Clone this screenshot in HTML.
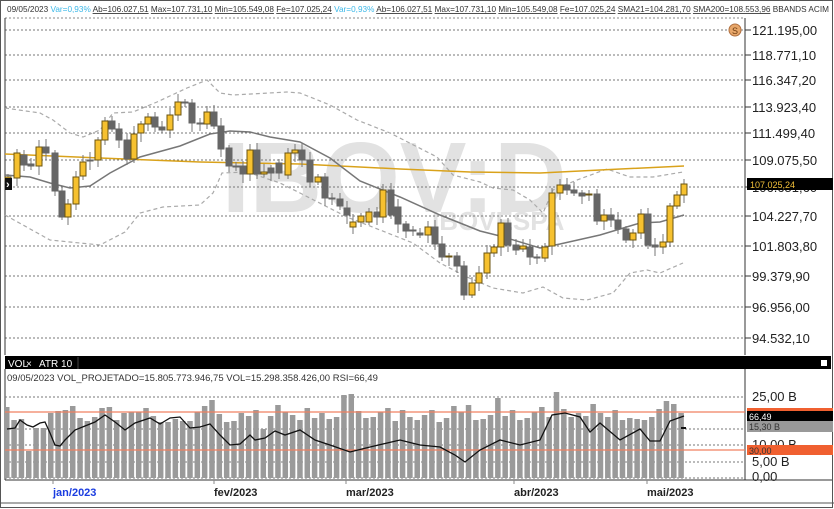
<!DOCTYPE html>
<html><head><meta charset="utf-8"><style>
body{margin:0;background:#fff;}
#w{position:relative;width:834px;height:509px;overflow:hidden;font-family:"Liberation Sans",sans-serif;background:#fff;}
svg{position:absolute;left:0;top:0}
</style></head><body><div id="w">
<svg id="s" width="834" height="509" xmlns="http://www.w3.org/2000/svg" font-family="Liberation Sans, sans-serif"></svg>
</div>
<script>
var s=document.getElementById('s'),h='';
function L(x1,y1,x2,y2,c,w,d){h+='<line x1="'+x1+'" y1="'+y1+'" x2="'+x2+'" y2="'+y2+'" stroke="'+c+'" stroke-width="'+(w||1)+'"'+(d?' stroke-dasharray="'+d+'"':'')+'/>';}
function R(x,y,w,hh,f,st){h+='<rect x="'+x+'" y="'+y+'" width="'+w+'" height="'+hh+'" fill="'+f+'"'+(st?' stroke="'+st+'" stroke-width="1"':'')+'/>';}
function T(x,y,t,sz,c,extra){h+='<text x="'+x+'" y="'+y+'" font-size="'+sz+'" fill="'+c+'" '+(extra||'')+'>'+t+'</text>';}
function P(pts,c,w,d){h+='<polyline fill="none" points="'+pts.map(function(p){return p.join(',')}).join(' ')+'" stroke="'+c+'" stroke-width="'+w+'"'+(d?' stroke-dasharray="'+d+'"':'')+'/>';}
R(0.5,0.5,832,507,'none','#555');
h+='<text x="7" y="12" font-size="8.6" fill="#333" textLength="822" lengthAdjust="spacingAndGlyphs">09/05/2023 <tspan fill="#3bb8e8">Var=0,93%</tspan> <tspan text-decoration="underline">Ab=106.027,51</tspan> <tspan text-decoration="underline">Max=107.731,10</tspan> <tspan text-decoration="underline">Min=105.549,08</tspan> <tspan text-decoration="underline">Fe=107.025,24</tspan> <tspan fill="#3bb8e8">Var=0,93%</tspan> <tspan text-decoration="underline">Ab=106.027,51</tspan> <tspan text-decoration="underline">Max=107.731,10</tspan> <tspan text-decoration="underline">Min=105.549,08</tspan> <tspan text-decoration="underline">Fe=107.025,24</tspan> <tspan text-decoration="underline">SMA21=104.281,70</tspan> <tspan text-decoration="underline">SMA200=108.553,96</tspan> BBANDS ACIM</text>';
L(5,18,745,18,'#888',1,'2,2');
T(222,212,'IBOV:D',100,'#e2e2e2','font-weight="bold"');
T(432,230,'IBOVESPA',26,'#e2e2e2','font-weight="bold"');
var pl=[['121.195,00',30],['118.771,10',55],['116.347,20',80],['113.923,40',107],['111.499,40',133],['109.075,50',160],['106.651,60',187],['104.227,70',216],['101.803,80',246],['99.379,90',276],['96.956,00',307],['94.532,10',338]];
pl.forEach(function(p){L(5,p[1],745,p[1],'#777',1,'2,2');L(745,p[1],751,p[1],'#333',1);T(752,p[1]+5,p[0],13,'#222');});
L(745,18,745,355,'#333',1);L(5,18,5,355,'#333',1);
P([[5,108],[40,113],[53,120],[70,133],[83,137],[100,130],[113,113],[133,112],[157,102],[187,88],[207,80],[220,93],[233,95],[287,92],[300,93],[330,105],[357,120],[390,133],[437,157],[453,175],[480,182],[493,188],[513,190],[530,200],[543,213],[553,190],[577,180],[607,169],[630,177],[653,177],[683,172]],'#aaa',1.2,'4,3');
P([[5,215],[50,240],[100,245],[125,232],[140,213],[163,207],[200,205],[213,193],[222,173],[247,172],[280,183],[300,193],[347,217],[380,230],[413,243],[440,263],[467,277],[493,288],[523,293],[543,287],[563,298],[587,300],[613,293],[630,273],[647,270],[660,273],[683,263]],'#aaa',1.2,'4,3');
P([[5,154],[100,158],[200,162],[300,164],[400,169],[470,172],[540,173],[600,170],[684,166]],'#d9a21b',1.5);
P([[5,175],[30,177],[50,183],[70,188],[90,186],[110,173],[140,157],[180,146],[210,134],[230,131],[250,132],[270,137],[300,142],[330,158],[360,181],[400,197],[440,215],[480,231],[500,236],[540,248],[560,244],[600,235],[640,223],[660,222],[684,215]],'#777',1.5);
var c=[[8,177,180,1],[17,153,178,1],[24,155,165,0],[31,164,166,0],[39,147,166,1],[46,147,153,0],[55,153,191,0],[62,191,217,0],[68,204,217,1],[76,177,204,1],[83,162,176,1],[90,160,161,0],[98,140,160,1],[105,121,140,1],[112,121,129,0],[119,129,140,0],[127,140,159,0],[134,134,159,1],[141,124,133,1],[148,117,124,1],[155,117,127,0],[162,127,130,0],[170,115,130,1],[178,102,115,1],[185,102,103,0],[192,103,123,0],[200,123,124,0],[207,112,124,1],[214,112,126,0],[221,126,149,0],[229,148,166,0],[236,166,167,0],[243,166,174,0],[250,150,174,1],[257,150,174,0],[264,172,174,1],[271,168,173,0],[279,163,173,0],[288,153,175,1],[295,150,153,1],[302,150,160,0],[310,160,182,0],[318,177,182,1],[325,177,198,0],[332,198,199,0],[340,199,206,0],[347,208,215,0],[353,222,227,1],[361,216,222,1],[369,212,222,1],[377,212,217,0],[383,190,217,1],[391,190,215,0],[398,207,224,0],[406,224,231,0],[413,230,231,0],[420,233,235,0],[428,227,235,1],[435,227,244,0],[442,244,257,0],[449,256,257,1],[457,256,266,0],[464,266,295,0],[472,283,295,1],[479,273,283,1],[487,253,273,1],[494,247,253,1],[501,223,247,1],[508,223,245,0],[516,245,250,0],[523,246,249,1],[530,247,257,0],[537,257,258,0],[545,247,258,1],[552,193,246,1],[560,185,193,1],[567,185,190,0],[574,190,193,0],[582,193,196,0],[589,194,195,1],[597,194,221,0],[604,215,221,1],[611,215,220,0],[618,220,229,0],[626,229,240,0],[633,233,240,1],[641,214,233,1],[648,214,245,0],[655,245,247,0],[663,242,247,1],[670,206,242,1],[677,195,206,1],[684,184,195,1]];
c.forEach(function(k,i){var a=3+(i*7)%6,b=3+(i*5)%7;L(k[0],k[1]-a,k[0],k[2]+b,'#777',1);
 if(k[3])R(k[0]-3,k[1],6,Math.max(1,k[2]-k[1]),'#f6c12f','#6b5410');else R(k[0]-3,k[1],6,Math.max(1,k[2]-k[1]),'#666','#666');});
R(5,178,7,12,'#111');T(6,188,'›',11,'#fff','font-weight="bold"');
R(747,178,86,12,'#000');T(750,188,'107.025,24',9,'#f3c13a');
h+='<circle cx="735" cy="30" r="6" fill="#e8a76a" stroke="#b07040"/>';T(732,34,'S',9,'#6b3a10');
R(5,356,826,13,'#000');T(8,367,'VOL',10,'#fff');T(26,367,'×',10,'#fff');T(39,367,'ATR 10',10,'#fff');L(78,357,78,369,'#444',1);R(821,360,6,6,'#fff');
T(7,381,'09/05/2023 VOL_PROJETADO=15.805.773.946,75 VOL=15.298.358.426,00 RSI=66,49',9.5,'#333');
L(5,369,5,480,'#333',1);L(745,369,745,480,'#333',1);
[397,429,445,462,478].forEach(function(y){L(5,y,745,y,'#777',1,'2,2');});
var vt=[407,420,419,451,428,428,413,411,410,406,418,421,417,408,407,420,413,412,412,408,416,422,422,419,421,421,412,406,400,414,422,421,413,416,410,429,416,405,412,415,420,408,418,413,419,417,395,394,411,418,417,412,408,421,410,417,420,415,410,422,418,406,412,405,420,419,415,398,416,410,420,418,412,407,417,392,409,417,413,416,404,413,417,410,420,418,419,420,417,409,401,404,413,424];
for(var i=0;i<93;i++){var x=7+i*7.33,t=vt[i]||415;R(x-3,t,5.5,478-t,'#9a9a9a');}
L(5,412,745,412,'#f08060',1.2);L(5,450,745,450,'#f08060',1.2);
P([[7,429],[15,428],[20,420],[27,425],[33,427],[40,423],[45,422],[50,433],[55,445],[60,446],[65,440],[75,430],[85,426],[95,422],[105,415],[115,422],[125,430],[135,423],[150,418],[160,424],[170,418],[180,417],[190,428],[200,427],[210,424],[220,435],[230,445],[240,444],[250,435],[255,440],[265,438],[275,431],[285,435],[300,430],[315,440],[330,445],[350,452],[370,447],[400,440],[420,445],[440,447],[455,455],[465,462],[480,450],[500,440],[520,445],[540,440],[552,415],[565,413],[580,417],[590,432],[600,423],[620,440],[640,429],[650,441],[660,441],[670,421],[684,416]],'#111',1.3);
R(681,427,5,2,'#111');
T(752,401,'25,00 B',13,'#222');T(752,449,'10,00 B',13,'#222');T(752,466,'5,00 B',13,'#222');T(752,481,'0,00',13,'#222');
R(747,408,86,5,'#f06030');R(747,411,86,10,'#000');T(749,420,'66,49',9,'#fff');
R(747,421,86,11,'#999');T(749,430,'15,30 B',9,'#333');
R(747,445,86,10,'#f06030');T(749,454,'30,00',9,'#333');
L(5,480,832,480,'#333',1);
[[53,'jan/2023','#1a3ce0'],[214,'fev/2023','#222'],[346,'mar/2023','#222'],[514,'abr/2023','#222'],[647,'mai/2023','#222']].forEach(function(d){L(d[0],480,d[0],484,'#888',1);T(d[0],496,d[1],11,d[2],'font-weight="bold"');});
L(0,503,834,503,'#555',1);
s.innerHTML=h;
</script></body></html>
